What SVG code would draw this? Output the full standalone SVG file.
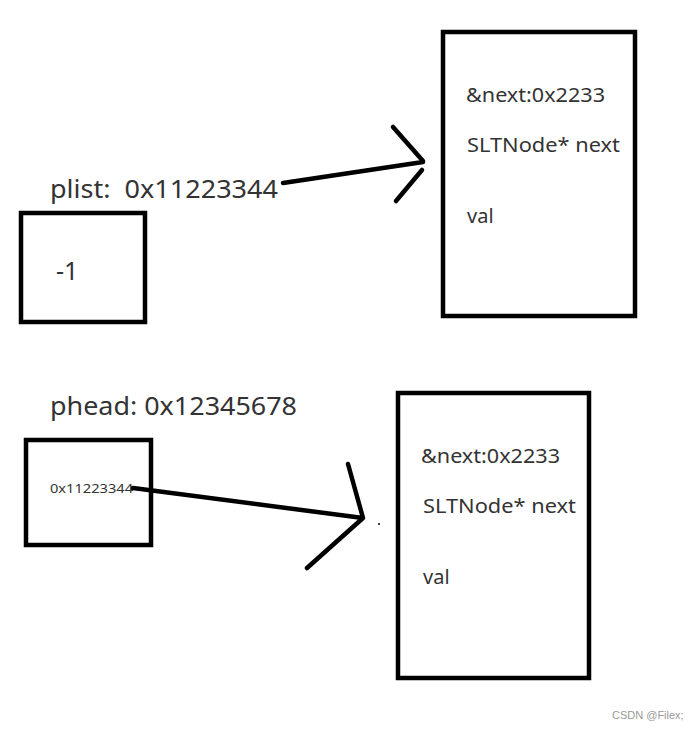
<svg xmlns="http://www.w3.org/2000/svg" width="696" height="729" viewBox="0 0 696 729">
<style>
.box{fill:#fff;stroke:#000;stroke-width:4.5}
.t{font-family:"Noto Sans","Open Sans","Liberation Sans",sans-serif;fill:#333}
.ln{fill:none;stroke:#000;stroke-width:4.5;stroke-linecap:round;stroke-linejoin:round}
</style>
<rect width="696" height="729" fill="#fff"/>
<g id="plist">
<text class="t" x="50" y="198" font-size="26" textLength="228" lengthAdjust="spacingAndGlyphs" xml:space="preserve">plist:  0x11223344</text>
<rect class="box" x="21" y="213" width="124" height="109"/>
<text class="t" x="56" y="280" font-size="25">-1</text>
</g>
<g id="node1">
<rect class="box" x="443" y="32" width="192" height="284"/>
<text class="t" x="466" y="102" font-size="20" textLength="139" lengthAdjust="spacingAndGlyphs">&amp;next:0x2233</text>
<text class="t" x="467" y="152" font-size="20" textLength="153" lengthAdjust="spacingAndGlyphs">SLTNode* next</text>
<text class="t" x="467" y="223" font-size="20">val</text>
</g>
<g id="phead">
<text class="t" x="50" y="415" font-size="26" textLength="247" lengthAdjust="spacingAndGlyphs">phead: 0x12345678</text>
<rect class="box" x="26" y="440" width="125" height="105"/>
<text class="t" x="50" y="493" font-size="13" textLength="83" lengthAdjust="spacingAndGlyphs">0x11223344</text>
</g>
<g id="node2">
<rect class="box" x="398" y="393" width="191" height="285"/>
<text class="t" x="421" y="463" font-size="20" textLength="139" lengthAdjust="spacingAndGlyphs">&amp;next:0x2233</text>
<text class="t" x="423" y="513" font-size="20" textLength="153" lengthAdjust="spacingAndGlyphs">SLTNode* next</text>
<text class="t" x="423" y="584" font-size="20">val</text>
</g>
<g id="connectors">
<path class="ln" d="M283 183 L423 162 M393 127 L423 161 M422 170 L396 201"/>
<path class="ln" d="M133 488 L363 518 M348 464 L363 518 L307 568"/>
<circle cx="379" cy="524" r="1" fill="#000"/>
</g>
<text x="612" y="719" font-family="Liberation Sans,Arial,sans-serif" font-size="11" fill="#999">CSDN @Filex;</text>
</svg>
